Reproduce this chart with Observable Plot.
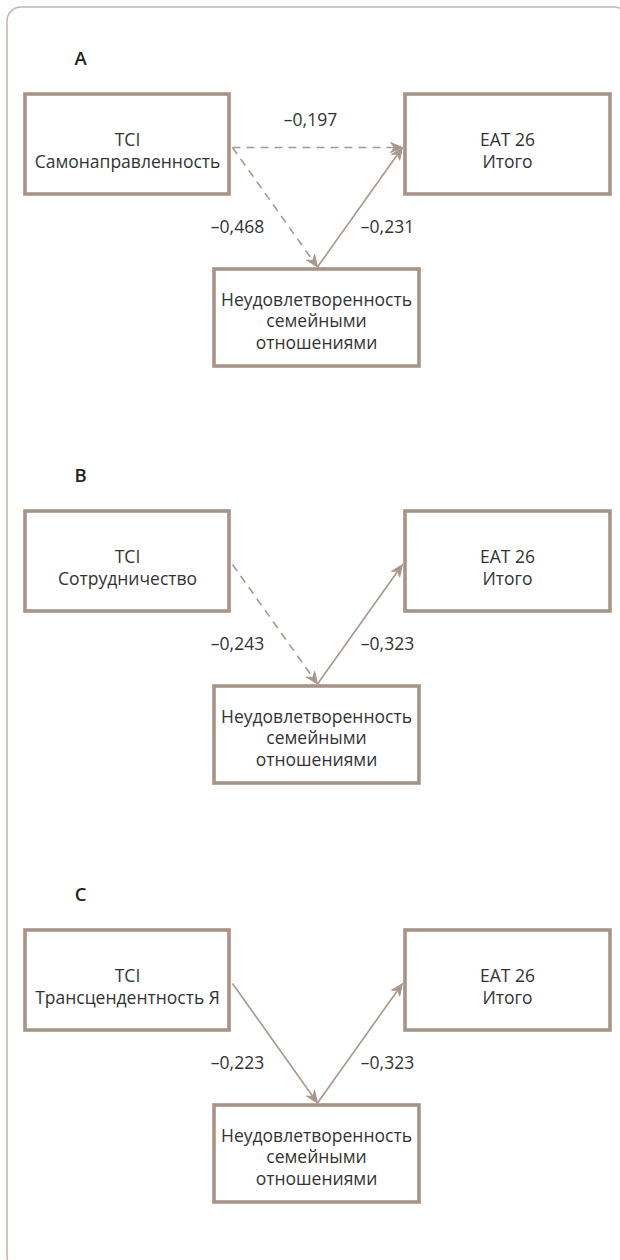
<!DOCTYPE html>
<html>
<head>
<meta charset="utf-8">
<script src="https://cdn.jsdelivr.net/npm/d3@7"></script>
<script src="https://cdn.jsdelivr.net/npm/@observablehq/plot@0.6"></script>
<style>
  html, body { margin: 0; padding: 0; background: #fff; }
  #chart svg { display: block; }
</style>
</head>
<body>
<div id="chart"></div>
<script>
// ---- Data ----
const panels = ["A", "B", "C"];
const exposureLabels = ["TCI\nСамонаправленность", "TCI\nСотрудничество", "TCI\nТрансцендентность Я"];
const outcomeLabel = "EAT 26\nИтого";
const mediatorLabel = "Неудовлетворенность\nсемейными\nотношениями";
const pathA = [-0.468, -0.243, -0.223];      // exposure -> mediator
const pathB = [-0.231, -0.323, -0.323];      // mediator -> outcome
const pathDirect = [-0.197, null, null];     // exposure -> outcome
const dashedA = [true, true, false];
const dashedB = [false, false, false];
const dashedDirect = [true, false, false];

// ---- Layout (diagram geometry) ----
const W = 620, H = 1260;
const panelOffset = [0, 417, 836];
const boxStroke = "#a89486";
const lineColor = "#a8978a";
const textColor = "#333333";
const font = "'Open Sans', 'Noto Sans', sans-serif";
const fs = 17.5;

const boxGeom = {
  exposure: {x1: 25, x2: 229, y1: 94, y2: 194, cx: 127, cy: 149.5},
  outcome:  {x1: 405, x2: 610, y1: 94, y2: 194, cx: 507, cy: 149.5},
  mediator: {x1: 214, x2: 419, y1: 269, y2: 366, cx: 316, cy: 320}
};
const anchor = {
  exposureOut: [232, 147],
  outcomeIn: [402, 147],
  mediatorTop: [317, 266.5]
};

const fmt = v => "–" + d3.format(".3f")(Math.abs(v)).replace(".", ",");

const boxes = [], boxTexts = [], letters = [], paths = [], labels = [];
panels.forEach((p, i) => {
  const dy = panelOffset[i];
  letters.push({text: p, x: 80, y: 59 + dy});
  const names = {exposure: exposureLabels[i], outcome: outcomeLabel, mediator: mediatorLabel};
  for (const k of ["exposure", "outcome", "mediator"]) {
    const g = boxGeom[k];
    boxes.push({x1: g.x1, x2: g.x2, y1: g.y1 + dy, y2: g.y2 + dy});
    boxTexts.push({text: names[k], x: g.cx, y: g.cy + dy});
  }
  const sh = ([x, y]) => [x, y + dy];
  paths.push({from: sh(anchor.exposureOut), to: sh(anchor.mediatorTop), dashed: dashedA[i], id: p + "a"});
  labels.push({text: fmt(pathA[i]), x: 237, y: 227 + dy});
  paths.push({from: sh(anchor.mediatorTop), to: sh(anchor.outcomeIn), dashed: dashedB[i], id: p + "b"});
  labels.push({text: fmt(pathB[i]), x: 387, y: 227 + dy});
  if (pathDirect[i] != null) {
    paths.push({from: sh(anchor.exposureOut), to: sh(anchor.outcomeIn), dashed: dashedDirect[i], id: p + "c"});
    labels.push({text: fmt(pathDirect[i]), x: 310, y: 120 + dy});
  }
});

// line segments (ending at the arrowhead notch) and arrowhead polygons
const L = 12, HW = 5, notch = 4;
const segs = [], heads = [];
for (const a of paths) {
  const [x0, y0] = a.from, [x1, y1] = a.to;
  const len = Math.hypot(x1 - x0, y1 - y0);
  const ux = (x1 - x0) / len, uy = (y1 - y0) / len;
  const nx = -uy, ny = ux;
  const ex = x1 - (L - notch) * ux, ey = y1 - (L - notch) * uy;
  segs.push({x1: x0, y1: y0, x2: ex, y2: ey, dashed: a.dashed});
  const pts = [
    [x1, y1],
    [x1 - L * ux + HW * nx, y1 - L * uy + HW * ny],
    [ex, ey],
    [x1 - L * ux - HW * nx, y1 - L * uy - HW * ny],
    [x1, y1]
  ];
  pts.forEach(([x, y]) => heads.push({id: a.id, x, y}));
}

const frame = [{x1: 7, x2: 628, y1: 7, y2: 1270}];

const chart = Plot.plot({
  width: W,
  height: H,
  margin: 0,
  x: {domain: [0, W], range: [0, W], axis: null},
  y: {domain: [0, H], range: [0, H], axis: null},
  style: {fontFamily: font, background: "#fff"},
  marks: [
    Plot.rect(frame, {x1: "x1", x2: "x2", y1: "y1", y2: "y2", rx: 14, fill: "none", stroke: "#c2b6ab", strokeWidth: 1.5, clip: true}),
    Plot.link(segs.filter(d => d.dashed), {x1: "x1", y1: "y1", x2: "x2", y2: "y2", stroke: lineColor, strokeWidth: 1.6, strokeDasharray: "8,6"}),
    Plot.link(segs.filter(d => !d.dashed), {x1: "x1", y1: "y1", x2: "x2", y2: "y2", stroke: lineColor, strokeWidth: 1.6}),
    Plot.line(heads, {x: "x", y: "y", z: "id", fill: lineColor, stroke: lineColor, strokeWidth: 1, curve: "linear"}),
    Plot.rect(boxes, {x1: "x1", x2: "x2", y1: "y1", y2: "y2", fill: "#fff", stroke: boxStroke, strokeWidth: 3.6}),
    Plot.text(boxTexts, {x: "x", y: "y", text: "text", fontSize: fs, lineHeight: 1.23, fill: textColor, textAnchor: "middle", lineAnchor: "middle"}),
    Plot.text(labels, {x: "x", y: "y", text: "text", fontSize: fs, fill: textColor, textAnchor: "middle", lineAnchor: "middle"}),
    Plot.text(letters, {x: "x", y: "y", text: "text", fontSize: 18.5, fontWeight: 600, fill: "#222", textAnchor: "middle", lineAnchor: "middle"})
  ]
});
document.getElementById("chart").appendChild(chart);
</script>
</body>
</html>
